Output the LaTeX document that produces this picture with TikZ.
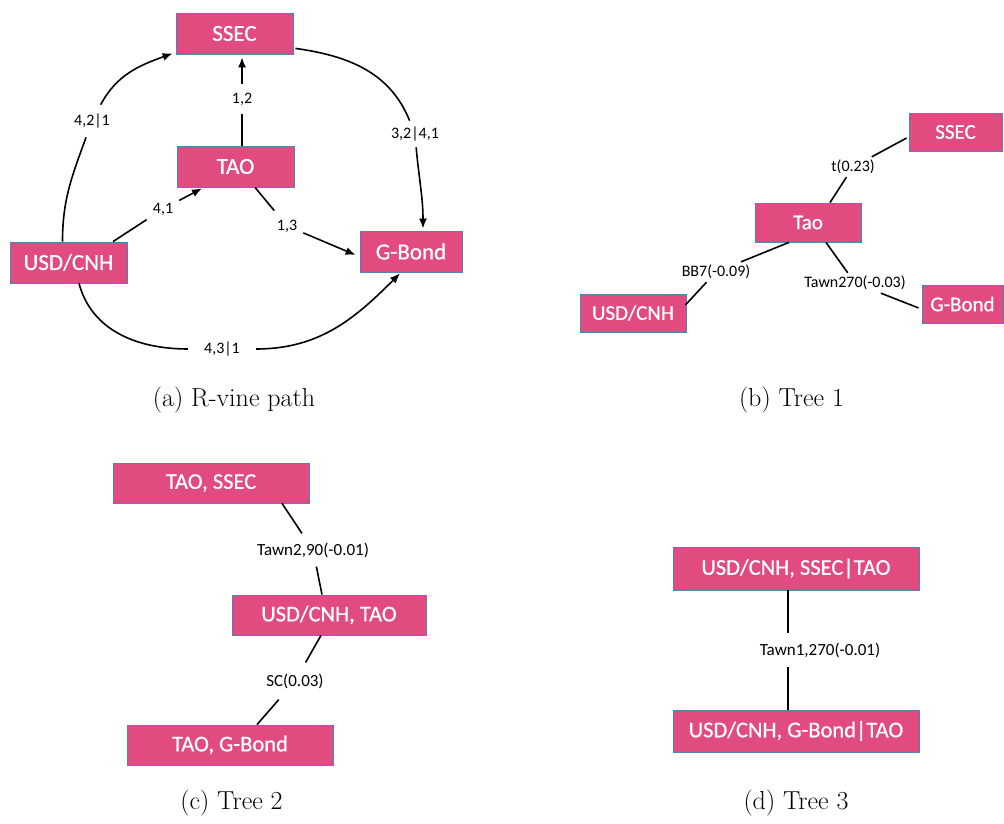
\documentclass[tikz,border=0pt]{standalone}
\usepackage{fontspec}
\newfontfamily\boxfont[FakeBold=0.7]{Carlito}
\newfontfamily\edgefont{Carlito}
\usetikzlibrary{arrows.meta,calc}
\definecolor{boxpink}{RGB}{226,75,128}
\definecolor{boxedge}{RGB}{79,129,189}

\begin{document}
\begin{tikzpicture}[x=1pt,y=1pt,
  vbox/.style={rectangle, fill=boxpink, draw=boxedge, line width=0.8pt,
               text=white, inner sep=0pt},
  bigA/.style={vbox, font=\boxfont\fontsize{23}{27}\selectfont,
               minimum width=117pt, minimum height=41pt},
  bigB/.style={vbox, font=\boxfont\fontsize{21}{25}\selectfont,
               minimum height=38pt},
  bigC/.style={vbox, font=\boxfont\fontsize{22.5}{26}\selectfont,
               minimum height=40pt},
  lab/.style={text=black, font=\edgefont\fontsize{16}{19}\selectfont},
  labA/.style={lab, inner xsep=6pt, inner ysep=9pt},
  labB/.style={lab, inner xsep=2pt, inner ysep=3pt},
  labC/.style={lab, font=\edgefont\fontsize{17}{20}\selectfont,
               inner xsep=4pt, inner ysep=9pt},
  link/.style={line width=1.6pt, black},
  arr/.style={link, -{Latex[length=10pt,width=8pt]}},
  captext/.style={font=\fontsize{26}{30}\selectfont}]
\useasboundingbox (0,0) rectangle (1004,824);

% ---------- (a) R-vine path ----------
\node[bigA] (ssecA) at (234.5,790.5) {SSEC};
\node[bigA] (taoA)  at (235.5,657.5) {TAO};
\node[bigA] (usdA)  at (68.5,561.5)  {USD/CNH};
\node[bigA, minimum width=102pt] (gbondA) at (411,572.5) {G-Bond};

\node[labA] (l12)   at (242,725) {1,2};
\node[labA] (l41)   at (163,615) {4,1};
\node[labA] (l13)   at (287,598) {1,3};
\node[labA] (l421)  at (92,703)  {4,2|1};
\node[labA, inner ysep=6pt] (l3241) at (415,690) {3,2|4,1};
\node[labA, inner xsep=16pt] (l431) at (222,475) {4,3|1};

\draw[arr] ($(taoA.north)+(6.5,0)$) -- (l12) -- ($(ssecA.south)+(7.5,-3)$);
\draw[arr] ($(usdA.north)+(44.5,0)$) -- (l41) -- ($(taoA.south)+(-33.5,-1)$);
\draw[arr] ($(taoA.south)+(19.5,0)$) -- (l13) -- ($(gbondA.west)+(-4,-3.5)$);

\draw[arr] ($(usdA.north)+(-6,0)$) to[out=90,in=250] (l421)
           to[out=62,in=200] ($(ssecA.south west)+(-3,1)$);
\draw[arr] ($(ssecA.south east)+(2,6)$) to[out=-8,in=112] (l3241)
           to[out=-85,in=90] ($(gbondA.north)+(12,2)$);
\draw[arr] ($(usdA.south)+(10.5,0)$) to[out=-75,in=180] (l431)
           to[out=0,in=225] ($(gbondA.south)+(-11,-1)$);

\node[captext] (capA) at (234,424) {(a) R-vine path};

% ---------- (b) Tree 1 ----------
\node[bigB, minimum width=93pt]  (ssecB)  at (955.5,692)  {SSEC};
\node[bigB, minimum width=106pt, minimum height=39pt] (taoB) at (808,601.5) {Tao};
\node[bigB, minimum width=106pt] (usdB)   at (633,511)    {USD/CNH};
\node[bigB, minimum width=81pt]  (gbondB) at (962.5,520)  {G-Bond};

\node[labB] (lt)    at (853,657) {t(0.23)};
\node[labB] (lbb)   at (716,552) {BB7(-0.09)};
\node[labB] (ltawn) at (855,541) {Tawn270(-0.03)};

\draw[link] ($(taoB.north)+(22,0)$) -- (lt) -- ($(ssecB.west)+(-2,-6)$);
\draw[link] ($(taoB.south)+(-19,0)$) -- (lbb) -- ($(usdB.east)+(-1,8)$);
\draw[link] ($(taoB.south)+(18,0)$) -- (ltawn) -- ($(gbondB.west)+(-3,-4)$);

\node[captext] (capB) at (791.5,424) {(b) Tree 1};

% ---------- (c) Tree 2 ----------
\node[bigC, minimum width=196pt] (c1) at (211,341) {TAO, SSEC};
\node[bigC, minimum width=194pt] (c2) at (329,209) {USD/CNH, TAO};
\node[bigC, minimum width=206pt] (c3) at (230,79)  {TAO, G-Bond};

\node[labC] (lc1) at (313,274) {Tawn2,90(-0.01)};
\node[labC, inner ysep=11pt] (lc2) at (295,143) {SC(0.03)};

\draw[link] ($(c1.south)+(71,0)$) -- (lc1) -- ($(c2.north)+(-7,0)$);
\draw[link] ($(c2.south)+(-8,0)$) -- (lc2) -- ($(c3.north)+(27,0)$);

\node[captext] (capC) at (231.5,21) {(c) Tree 2};

% ---------- (d) Tree 3 ----------
\node[bigC, minimum width=246pt, minimum height=43pt] (d1) at (796,255.5) {USD/CNH, SSEC|TAO};
\node[bigC, minimum width=246pt, minimum height=42pt] (d2) at (796,93)    {USD/CNH, G-Bond|TAO};

\draw[link] ($(d1.south)+(-8,0)$) -- node[labC, fill=white, xshift=32pt,
      inner ysep=10pt] (ld) {Tawn1,270(-0.01)} ($(d2.north)+(-8,0)$);

\node[captext] (capD) at (796,21) {(d) Tree 3};
\end{tikzpicture}
\end{document}
